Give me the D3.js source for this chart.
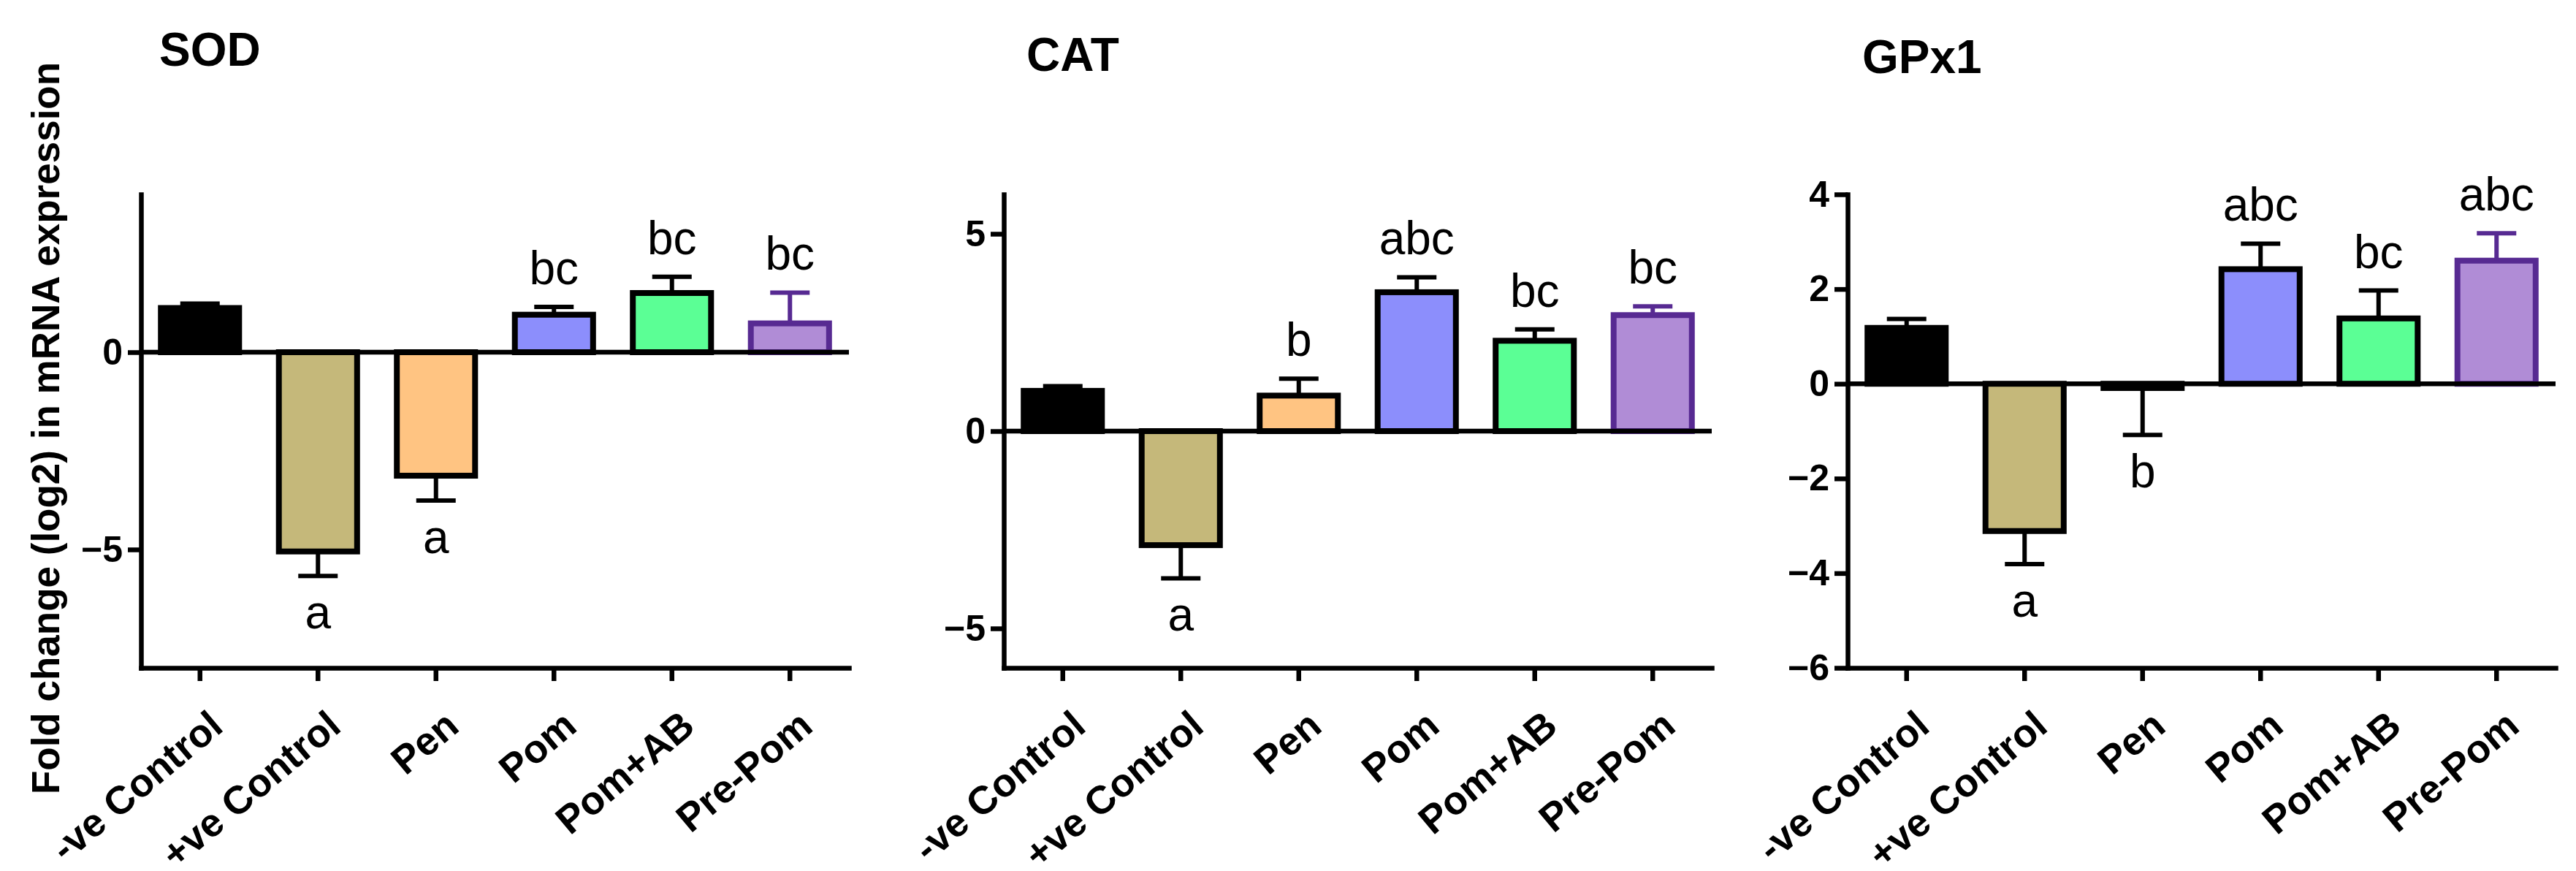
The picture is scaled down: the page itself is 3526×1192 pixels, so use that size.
<!DOCTYPE html>
<html>
<head>
<meta charset="utf-8">
<script src="https://cdnjs.cloudflare.com/ajax/libs/d3/7.8.5/d3.min.js"></script>
<style>
  body { margin: 0; background: #fff; }
  svg { display: block; font-family: "Liberation Sans", Arial, sans-serif; }
</style>
</head>
<body>
<svg id="chart" width="3526" height="1192"></svg>
<script>
// groups on the x axis
var categories = ["-ve Control", "+ve Control", "Pen", "Pom", "Pom+AB", "Pre-Pom"];

// SOD
var sodMean = [1.12, -5.05, -3.13, 0.95, 1.50, 0.73];
var sodSem = [0.11, 0.62, 0.63, 0.20, 0.41, 0.78];
var sodLetters = ["", "a", "a", "bc", "bc", "bc"];
var sodDomain = [-8, 4];
var sodTicks = [-5, 0];

// CAT
var catMean = [1.02, -2.89, 0.90, 3.52, 2.29, 2.94];
var catSem = [0.12, 0.84, 0.43, 0.38, 0.29, 0.22];
var catLetters = ["", "a", "b", "abc", "bc", "bc"];
var catDomain = [-6, 6];
var catTicks = [-5, 0, 5];

// GPx1
var gpxMean = [1.18, -3.11, -0.09, 2.42, 1.38, 2.60];
var gpxSem = [0.19, 0.70, 0.99, 0.54, 0.59, 0.58];
var gpxLetters = ["", "a", "b", "abc", "bc", "abc"];
var gpxDomain = [-6, 4];
var gpxTicks = [-6, -4, -2, 0, 2, 4];

var yLabel = "Fold change (log2) in mRNA expression";

// styles
var fills = ["#000000", "#c5b87a", "#ffc482", "#8c8efc", "#5bff95", "#b08cd6"];
var strokes = ["#000000", "#000000", "#000000", "#000000", "#000000", "#572a92"];

var plotTop = 266, plotBottom = 914, plotW = 969;
var lineW = 6.5, barStroke = 8, capW = 54;

var panels = [
    { title: "SOD", mean: sodMean, sem: sodSem, letters: sodLetters, domain: sodDomain, ticks: sodTicks,
      left: 193, titleX: 218, titleY: 90 },
    { title: "CAT", mean: catMean, sem: catSem, letters: catLetters, domain: catDomain, ticks: catTicks,
      left: 1374, titleX: 1405, titleY: 97 },
    { title: "GPx1", mean: gpxMean, sem: gpxSem, letters: gpxLetters, domain: gpxDomain, ticks: gpxTicks,
      left: 2529, titleX: 2549, titleY: 100 }
];

var svg = d3.select("#chart");

// shared y axis title
svg.append("text")
    .attr("transform", "translate(81,586) rotate(-90)")
    .attr("text-anchor", "middle")
    .attr("font-size", 53)
    .attr("font-weight", "bold")
    .text(yLabel);

panels.forEach(function (p) 
{
    var g = svg.append("g").attr("transform", "translate(" + p.left + ",0)");

    var x = d3.scaleBand()
        .domain(categories)
        .range([0, plotW])
        .paddingInner(0.337)
        .paddingOuter(0.1685);

    var y = d3.scaleLinear()
        .domain(p.domain)
        .range([plotBottom, plotTop]);

    var rows = categories.map(function (c, i) {
        return { cat: c, v: p.mean[i], e: p.sem[i], letter: p.letters[i], i: i };
    });

    // title
    svg.append("text")
        .attr("x", p.titleX)
        .attr("y", p.titleY)
        .attr("font-size", 64)
        .attr("font-weight", "bold")
        .text(p.title);

    // bars
    g.selectAll(".bar").data(rows).enter().append("rect")
        .attr("class", "bar")
        .attr("x", function (d) { return x(d.cat); })
        .attr("width", x.bandwidth())
        .attr("y", function (d) { return Math.min(y(0), y(d.v)); })
        .attr("height", function (d) { return Math.abs(y(d.v) - y(0)); })
        .attr("fill", function (d) { return fills[d.i]; })
        .attr("stroke", function (d) { return strokes[d.i]; })
        .attr("stroke-width", barStroke);

    // one-sided error bars
    var capY = function (d) { return y(d.v >= 0 ? d.v + d.e : d.v - d.e); };
    var cx = function (d) { return x(d.cat) + x.bandwidth() / 2; };

    g.selectAll(".stem").data(rows).enter().append("line")
        .attr("class", "stem")
        .attr("x1", cx).attr("x2", cx)
        .attr("y1", function (d) { return y(d.v); })
        .attr("y2", capY)
        .attr("stroke", function (d) { return strokes[d.i]; })
        .attr("stroke-width", 6);

    g.selectAll(".cap").data(rows).enter().append("line")
        .attr("class", "cap")
        .attr("x1", function (d) { return cx(d) - capW / 2; })
        .attr("x2", function (d) { return cx(d) + capW / 2; })
        .attr("y1", capY).attr("y2", capY)
        .attr("stroke", function (d) { return strokes[d.i]; })
        .attr("stroke-width", 6);

    // significance letters
    g.selectAll(".letter").data(rows).enter().append("text")
        .attr("class", "letter")
        .attr("x", cx)
        .attr("y", function (d) { return d.v >= 0 ? capY(d) - 31 : capY(d) + 72; })
        .attr("text-anchor", "middle")
        .attr("font-size", 64)
        .text(function (d) { return d.letter; });

    // zero line
    g.append("line")
        .attr("x1", 0).attr("x2", plotW)
        .attr("y1", y(0)).attr("y2", y(0))
        .attr("stroke", "#000")
        .attr("stroke-width", lineW);

    // y axis
    var ya = g.append("g")
        .call(d3.axisLeft(y).tickValues(p.ticks).tickSize(18).tickSizeOuter(0).tickPadding(7));
    ya.select(".domain").attr("stroke-width", lineW).attr("stroke-linecap", "square");
    ya.selectAll(".tick line").attr("stroke-width", lineW);
    ya.selectAll(".tick text")
        .attr("font-size", 50)
        .attr("font-weight", "bold")
        .attr("font-family", "Liberation Sans, Arial, sans-serif")
        .attr("fill", "#000");

    // x axis at the bottom
    var xa = g.append("g")
        .attr("transform", "translate(0," + plotBottom + ")")
        .call(d3.axisBottom(x).tickSize(18).tickSizeOuter(0).tickFormat(""));
    xa.select(".domain").attr("stroke-width", lineW).attr("stroke-linecap", "square");
    xa.selectAll(".tick line").attr("stroke-width", lineW);

    g.selectAll(".xlab").data(categories).enter().append("text")
        .attr("class", "xlab")
        .attr("transform", function (c) {
            return "translate(" + (x(c) + x.bandwidth() / 2 + 22) + "," + (plotBottom + 70) + ") rotate(-40)";
        })
        .attr("text-anchor", "end")
        .attr("dy", "0.35em")
        .attr("font-size", 54)
        .attr("font-weight", "bold")
        .text(function (c) { return c; });
});
</script>
</body>
</html>
